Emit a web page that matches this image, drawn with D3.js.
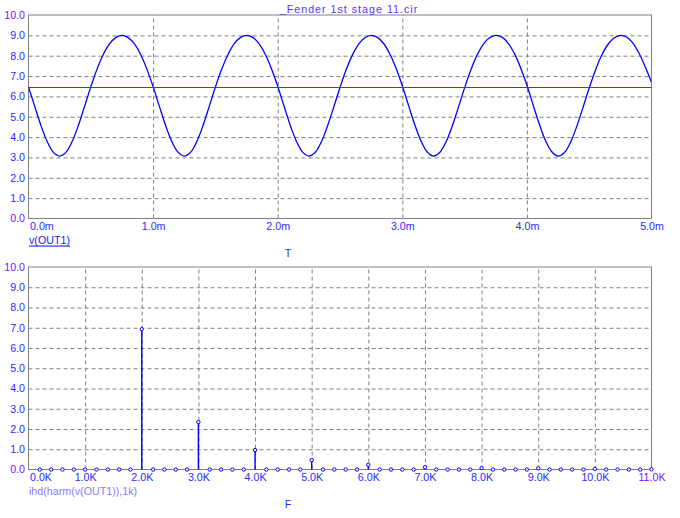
<!DOCTYPE html>
<html>
<head>
<meta charset="utf-8">
<script src="https://cdn.jsdelivr.net/npm/d3@7"></script>
<style>
  body { margin: 0; background: #fff; }
  svg { display: block; font-family: "Liberation Sans", Arial, sans-serif; }
</style>
</head>
<body>
<svg id="chart" width="680" height="518"></svg>
<script>
// ---- data ----
const title = "_Fender 1st stage 11.cir";

// transient: v(OUT1) sampled every 0.05 ms from 0 to 5 ms
const timeStepMs = 0.05;
const vOut = [
  6.47, 5.51, 4.57, 3.78, 3.25, 3.07, 3.25, 3.78, 4.57, 5.51,
  6.47, 7.34, 8.06, 8.58, 8.89, 9.00, 8.89, 8.58, 8.06, 7.34,
  6.48, 5.52, 4.58, 3.79, 3.26, 3.07, 3.25, 3.77, 4.56, 5.50,
  6.46, 7.33, 8.05, 8.58, 8.89, 9.00, 8.90, 8.59, 8.07, 7.36,
  6.50, 5.54, 4.59, 3.80, 3.26, 3.07, 3.24, 3.76, 4.55, 5.48,
  6.44, 7.32, 8.04, 8.57, 8.88, 9.00, 8.90, 8.60, 8.08, 7.38,
  6.52, 5.56, 4.61, 3.81, 3.27, 3.07, 3.24, 3.75, 4.53, 5.46,
  6.42, 7.30, 8.03, 8.56, 8.88, 9.00, 8.91, 8.61, 8.10, 7.40,
  6.55, 5.58, 4.63, 3.82, 3.28, 3.07, 3.23, 3.74, 4.52, 5.45,
  6.41, 7.29, 8.02, 8.55, 8.87, 9.00, 8.92, 8.62, 8.12, 7.45,
  6.70
];
const dcLevel = 6.45;

// harmonic distortion, one sample every 0.2 kHz from 0.2k to 11.0k
const freqStepK = 0.2;
const ihd = [
  0, 0, 0, 0, 0,
  0, 0, 0, 0, 6.93,
  0, 0, 0, 0, 2.34,
  0, 0, 0, 0, 0.96,
  0, 0, 0, 0, 0.46,
  0, 0, 0, 0, 0.23,
  0, 0, 0, 0, 0.11,
  0, 0, 0, 0, 0.07,
  0, 0, 0, 0, 0.06,
  0, 0, 0, 0, 0.03,
  0, 0, 0, 0, 0.01
];

const yTicks = [0, 1, 2, 3, 4, 5, 6, 7, 8, 9, 10];
const tTicks = [0, 1, 2, 3, 4, 5];
const fTicks = [0, 1, 2, 3, 4, 5, 6, 7, 8, 9, 10, 11];

// ---- layout ----
const left = 28.5, right = 651.5;
const topPanel = { y0: 15, y1: 218.5 };
const botPanel = { y0: 267, y1: 469.5 };

const blue = "#0000ff";
const tickBlue = "#2a2aff";
const limitPurple = "#7a10ff";
const gridGrey = "#808080";

const svg = d3.select("#chart");

const defs = svg.append("defs");

const drawPanel = (panel, x, xTicks, xFmt, id) => {
  const y = d3.scaleLinear().domain([0, 10]).range([panel.y1, panel.y0]);
  const w = right - left, h = panel.y1 - panel.y0;

  defs.append("clipPath").attr("id", id)
    .append("rect").attr("x", left).attr("y", panel.y0 - 2).attr("width", w).attr("height", h + 4);

  // horizontal grid + y labels
  const gy = svg.append("g")
    .attr("transform", `translate(${left},0)`)
    .call(d3.axisLeft(y).tickValues(yTicks).tickSize(-w).tickPadding(3.5)
      .tickFormat(d3.format(".1f")));
  gy.select(".domain").remove();
  gy.selectAll(".tick line")
    .attr("stroke", gridGrey).attr("stroke-dasharray", "4,3")
    .attr("opacity", (d) => (d === 0 || d === 10 ? 0 : 1));
  gy.selectAll(".tick text")
    .attr("font-size", 10.7).attr("font-family", null)
    .attr("fill", (d) => (d === 0 || d === 10 ? limitPurple : tickBlue));

  // vertical grid + x labels
  const gx = svg.append("g")
    .attr("transform", `translate(0,${panel.y1})`)
    .call(d3.axisBottom(x).tickValues(xTicks).tickSize(-h).tickPadding(3.5)
      .tickFormat(xFmt));
  gx.select(".domain").remove();
  gx.selectAll(".tick line")
    .attr("stroke", gridGrey).attr("stroke-dasharray", "4,3")
    .attr("opacity", (d, i) => (i === 0 || i === xTicks.length - 1 ? 0 : 1));
  gx.selectAll(".tick text")
    .attr("font-size", 10.7).attr("font-family", null)
    .attr("fill", tickBlue);
  gx.select(".tick text").attr("text-anchor", "start").attr("x", 1);

  svg.append("rect")
    .attr("x", left).attr("y", panel.y0).attr("width", w).attr("height", h)
    .attr("fill", "none").attr("stroke", gridGrey).attr("stroke-width", 1);

  return { y, gx };
};

// ---- top panel: transient ----
const t = d3.scaleLinear().domain([0, 5]).range([left, right]);
const tranPanel = drawPanel(topPanel, t, tTicks, (d) => d.toFixed(1) + "m", "clipTop");

const plotTop = svg.append("g").attr("clip-path", "url(#clipTop)");

// operating-point level, snapped to a pixel row
const dcY = Math.round(tranPanel.y(dcLevel)) + 0.5;
plotTop.append("line")
  .attr("x1", left).attr("x2", right)
  .attr("y1", dcY).attr("y2", dcY)
  .attr("stroke", "#ff0000").attr("stroke-width", 1.2);

const line = d3.line()
  .x((d, i) => t(i * timeStepMs))
  .y((d) => tranPanel.y(d))
  .curve(d3.curveCatmullRom.alpha(0.5));

plotTop.append("path")
  .datum(vOut)
  .attr("d", line)
  .attr("fill", "none")
  .attr("stroke", blue)
  .attr("stroke-width", 1.3);

// ---- bottom panel: harmonics ----
const f = d3.scaleLinear().domain([0, 11]).range([left, right]);
const harmPanel = drawPanel(botPanel, f, fTicks, (d) => d.toFixed(1) + "K", "clipBot");
harmPanel.gx.selectAll(".tick text").filter((d) => d === 11).attr("fill", limitPurple);

const spec = ihd.map((v, i) => ({ k: (i + 1) * freqStepK, v }));
const plotBot = svg.append("g");

plotBot.selectAll("line.stem")
  .data(spec.filter((d) => d.v > 0.02))
  .enter()
  .append("line")
  .attr("class", "stem")
  .attr("x1", (d) => f(d.k)).attr("x2", (d) => f(d.k))
  .attr("y1", harmPanel.y(0)).attr("y2", (d) => harmPanel.y(d.v))
  .attr("stroke", blue).attr("stroke-width", 1.4);

plotBot.selectAll("circle")
  .data(spec)
  .enter()
  .append("circle")
  .attr("cx", (d) => f(d.k))
  .attr("cy", (d) => harmPanel.y(d.v))
  .attr("r", 1.7)
  .attr("fill", "#fff")
  .attr("stroke", blue)
  .attr("stroke-width", 1);

// ---- texts ----
svg.append("text")
  .attr("x", 349).attr("y", 8.5)
  .attr("text-anchor", "middle").attr("dominant-baseline", "central")
  .attr("font-size", 10.7).attr("letter-spacing", 1)
  .attr("fill", "#5a30ff")
  .text(title);

svg.append("text")
  .attr("x", 29).attr("y", 239.5)
  .attr("dominant-baseline", "central")
  .attr("font-size", 10.7).attr("fill", "#1a1ae0")
  .attr("text-decoration", "underline")
  .text("v(OUT1)");

svg.append("text")
  .attr("x", 288).attr("y", 253)
  .attr("text-anchor", "middle").attr("dominant-baseline", "central")
  .attr("font-size", 10.7).attr("fill", tickBlue)
  .text("T");

svg.append("text")
  .attr("x", 29).attr("y", 491)
  .attr("dominant-baseline", "central")
  .attr("font-size", 10.7).attr("fill", "#8a7cff")
  .text("ihd(harm(v(OUT1)),1k)");

svg.append("text")
  .attr("x", 288).attr("y", 504)
  .attr("text-anchor", "middle").attr("dominant-baseline", "central")
  .attr("font-size", 10.7).attr("fill", tickBlue)
  .text("F");
</script>
</body>
</html>
